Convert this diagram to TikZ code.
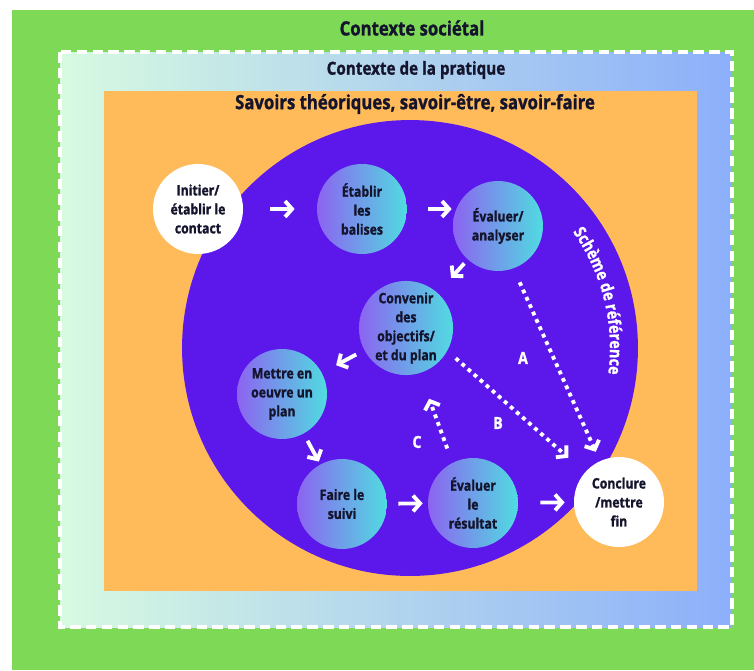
\documentclass[tikz,border=0pt]{standalone}
\usepackage{fontspec}
\setmainfont{Open Sans}[FakeStretch=0.85, BoldFeatures={FakeBold=1.2}]
\usepackage{tikz}
\usetikzlibrary{positioning, calc, arrows.meta, decorations.text}
\definecolor{socgreen}{RGB}{126,217,87}
\definecolor{savorange}{RGB}{255,186,90}
\definecolor{cerclepurple}{RGB}{92,23,235}
\definecolor{pratmint}{RGB}{215,250,225}
\definecolor{pratblue}{RGB}{140,175,250}
\definecolor{etapeleft}{RGB}{140,100,240}
\definecolor{etaperight}{RGB}{80,220,225}
\definecolor{texte}{RGB}{20,20,45}

\begin{document}
\begin{tikzpicture}[x=0.02cm, y=-0.02cm]
	\tikzstyle{etape}=[circle, minimum size=1.8cm, inner sep=0pt, left color=etapeleft, right color=etaperight, align=center, text=texte, font=\bfseries\fontsize{8.2}{10.8}\selectfont]
	\tikzstyle{borne}=[circle, minimum size=1.8cm, inner sep=0pt, fill=white, align=center, text=texte, font=\bfseries\fontsize{8.2}{10.8}\selectfont]
	\tikzstyle{titre}=[text=texte, font=\bfseries\fontsize{11.2}{13}\selectfont]
	\tikzstyle{lettre}=[text=white, font=\bfseries\fontsize{9.5}{10}\selectfont]
	\tikzstyle{fleche}=[white, line width=2.2pt, -{Straight Barb[length=4pt, width=9pt]}]
	\tikzstyle{pointille}=[white, line width=2.2pt, dash pattern=on 2.2pt off 2.4pt, -{Straight Barb[length=4pt, width=9pt]}]
	\useasboundingbox (0,0) rectangle (754,670);
	% cadres
	\fill[white] (0,0) rectangle (754,670);
	\fill[socgreen] (12,10) rectangle (754,670);
	\shade[left color=pratmint, right color=pratblue] (60,52) rectangle (732,627);
	\draw[white, line width=1.9pt, dash pattern=on 6pt off 3pt] (60,52) rectangle (732,627);
	\fill[savorange] (104,91) rectangle (697,591);
	\coordinate (ctr) at (410,348);
	\fill[cerclepurple] (ctr) circle[radius=4.56cm];
	\node[titre] (soc) at (412,28) {Contexte sociétal};
	\node[titre, font=\bfseries\fontsize{10.2}{12}\selectfont] (prat) at (416,70) {Contexte de la pratique};
	\node[titre] (sav) at (415,104) {Savoirs théoriques, savoir-être, savoir-faire};
	% etapes
	\node[borne] (c01) at (198,209) {Initier/\\établir le\\contact};
	\node[etape] (c02) at (362,209) {Établir\\les\\balises};
	\node[etape] (c03) at (498,226) {Évaluer/\\analyser};
	\node[etape] (c04) at (406,328) {Convenir\\des\\objectifs/\\et du plan};
	\node[etape] (c05) at (282,394) {Mettre en\\oeuvre un\\plan};
	\node[etape] (c06) at (342,504) {Faire le\\suivi};
	\node[etape] (c07) at (473,503) {Évaluer\\le\\résultat};
	\node[borne] (c08) at (619,502) {Conclure\\/mettre\\fin};
	% fleches
	\draw[fleche, shorten <=0.54cm, shorten >=0.44cm] (c01.east) -- (c01.east -| c02.west);
	\draw[fleche, shorten <=0.42cm, shorten >=0.02cm] (c02.east) -- (c02.east -| c03.west);
	\draw[fleche, shorten <=0.1cm, shorten >=0.4cm] (c03) -- (c04);
	\draw[fleche, shorten <=0.18cm, shorten >=0.32cm] (c04) -- (c05);
	\draw[fleche, shorten <=0.16cm, shorten >=0.06cm] (c05) -- (c06);
	\draw[fleche, shorten <=0.22cm, shorten >=0.1cm] (c06) -- (c07);
	\draw[fleche, shorten <=0.44cm, shorten >=0.18cm] (c07) -- (c08);
	\draw[pointille, shorten <=0.3cm, shorten >=0.2cm] (c03.-70) -- (c08.115);
	\draw[pointille, shorten <=0.22cm, shorten >=0.44cm] (c04.-29) -- (c08.139);
	\draw[pointille, shorten <=0.3cm, shorten >=0.54cm] (c07.117) -- (c04.-73);
	\node[lettre] (la) at (523,358) {A};
	\node[lettre] (lb) at (498,423) {B};
	\node[lettre] (lc) at (417,442) {C};
	\path[decorate, decoration={text along path, text align=center, text color=white, text={|\bfseries\fontsize{9.6}{11}\selectfont|Schème de référence}}] ($(ctr)+(46:4cm)$) arc[start angle=46, end angle=-18, radius=4cm];
\end{tikzpicture}
\end{document}
